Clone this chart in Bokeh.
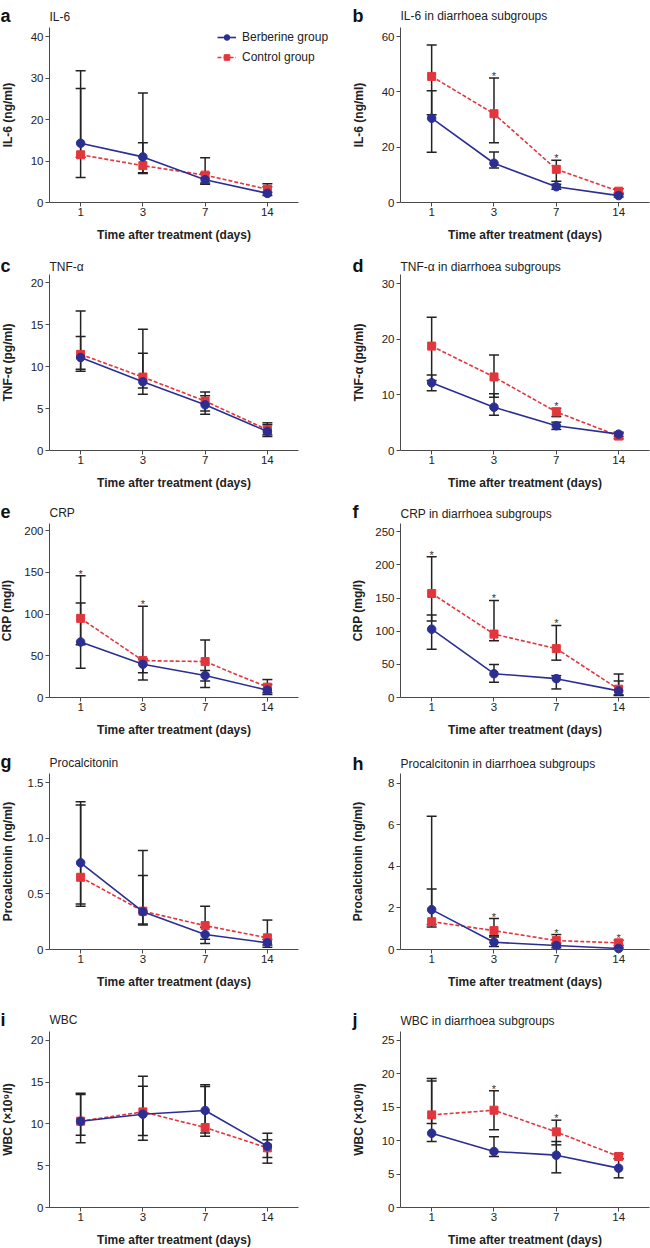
from bokeh.plotting import figure
from bokeh.models import (ColumnDataSource, Whisker, TeeHead, FixedTicker, Label,
                          Legend, LegendItem, Range1d)
from bokeh.layouts import column, row
from bokeh.embed import file_html
from bokeh.resources import INLINE
from bokeh.core.properties import value

# ---------------- data ----------------
days = ["1", "3", "7", "14"]
x_label = "Time after treatment (days)"
series_names = ["Berberine group", "Control group"]

# a  IL-6
il6_berb = [14.3, 11.0, 5.5, 2.2]
il6_berb_lo = [6.0, 7.0, 4.4, 1.7]
il6_berb_hi = [31.8, 26.4, 7.1, 3.8]
il6_ctrl = [11.5, 8.9, 6.6, 3.2]
il6_ctrl_lo = [10.9, 7.2, 4.7, 2.5]
il6_ctrl_hi = [27.5, 14.4, 10.8, 4.5]
il6_stars = []

# b  IL-6 diarrhoea
il6d_berb = [30.5, 14.2, 5.7, 2.5]
il6d_berb_lo = [18.2, 12.5, 4.8, 2.0]
il6d_berb_hi = [40.4, 18.3, 6.6, 3.4]
il6d_ctrl = [45.6, 32.1, 12.0, 4.1]
il6d_ctrl_lo = [31.7, 21.6, 7.7, 3.0]
il6d_ctrl_hi = [57.0, 45.0, 15.3, 5.0]
il6d_stars = [1, 2]

# c  TNF-alpha
tnf_berb = [11.1, 8.2, 5.45, 2.27]
tnf_berb_lo = [9.45, 6.7, 4.34, 1.67]
tnf_berb_hi = [13.6, 11.6, 6.53, 3.07]
tnf_ctrl = [11.47, 8.76, 5.9, 2.47]
tnf_ctrl_lo = [9.7, 7.45, 4.7, 1.87]
tnf_ctrl_hi = [16.65, 14.46, 6.97, 3.3]
tnf_stars = []

# d  TNF-alpha diarrhoea
tnfd_berb = [12.2, 7.8, 4.45, 2.95]
tnfd_berb_lo = [10.75, 6.35, 3.8, 2.5]
tnfd_berb_hi = [13.6, 10.2, 5.1, 3.3]
tnfd_ctrl = [18.8, 13.25, 6.95, 2.6]
tnfd_ctrl_lo = [12.6, 9.6, 6.1, 2.1]
tnfd_ctrl_hi = [24.0, 17.2, 7.6, 3.1]
tnfd_stars = [2]

# e  CRP
crp_berb = [66.5, 39.8, 26.3, 8.8]
crp_berb_lo = [35.1, 21.1, 12.0, 3.6]
crp_berb_hi = [113.1, 46.0, 32.3, 15.5]
crp_ctrl = [94.8, 44.2, 43.0, 12.4]
crp_ctrl_lo = [63.3, 29.5, 19.9, 5.6]
crp_ctrl_hi = [145.8, 109.2, 68.9, 21.5]
crp_stars = [0, 1]

# f  CRP diarrhoea
crpd_berb = [103.1, 35.9, 28.4, 10.0]
crpd_berb_lo = [72.7, 22.9, 12.9, 4.0]
crpd_berb_hi = [124.5, 49.8, 33.0, 24.9]
crpd_ctrl = [156.9, 95.6, 73.7, 12.5]
crpd_ctrl_lo = [115.5, 85.7, 56.3, 3.0]
crpd_ctrl_hi = [212.2, 146.4, 108.6, 35.4]
crpd_stars = [0, 1, 2]

# g  Procalcitonin
pct_berb = [0.78, 0.34, 0.135, 0.06]
pct_berb_lo = [0.41, 0.22, 0.054, 0.02]
pct_berb_hi = [1.33, 0.89, 0.2, 0.09]
pct_ctrl = [0.65, 0.345, 0.215, 0.105]
pct_ctrl_lo = [0.39, 0.23, 0.093, 0.04]
pct_ctrl_hi = [1.30, 0.665, 0.39, 0.265]
pct_stars = []

# h  Procalcitonin diarrhoea
pctd_berb = [1.92, 0.35, 0.19, 0.05]
pctd_berb_lo = [1.2, 0.15, 0.08, 0.01]
pctd_berb_hi = [6.42, 0.6, 0.3, 0.1]
pctd_ctrl = [1.34, 0.91, 0.43, 0.32]
pctd_ctrl_lo = [1.09, 0.66, 0.2, 0.2]
pctd_ctrl_hi = [2.91, 1.49, 0.72, 0.45]
pctd_stars = [1, 2, 3]

# i  WBC
wbc_berb = [10.32, 11.15, 11.6, 7.33]
wbc_berb_lo = [7.73, 8.05, 8.9, 5.98]
wbc_berb_hi = [13.67, 14.5, 14.66, 8.88]
wbc_ctrl = [10.32, 11.43, 9.56, 7.13]
wbc_ctrl_lo = [8.65, 8.6, 8.53, 5.3]
wbc_ctrl_hi = [13.5, 15.7, 14.46, 8.09]
wbc_stars = []

# j  WBC diarrhoea
wbcd_berb = [11.1, 8.37, 7.82, 5.88]
wbcd_berb_lo = [9.86, 7.62, 5.18, 4.43]
wbcd_berb_hi = [18.92, 10.56, 9.86, 7.3]
wbcd_ctrl = [13.84, 14.54, 11.3, 7.62]
wbcd_ctrl_lo = [12.55, 11.6, 9.36, 7.3]
wbcd_ctrl_hi = [19.27, 17.43, 13.05, 8.0]
wbcd_stars = [1, 2]

letters = ["a", "b", "c", "d", "e", "f", "g", "h", "i", "j"]
titles = ["IL-6", "IL-6 in diarrhoea subgroups", "TNF-α", "TNF-α in diarrhoea subgroups",
          "CRP", "CRP in diarrhoea subgroups", "Procalcitonin",
          "Procalcitonin in diarrhoea subgroups", "WBC", "WBC in diarrhoea subgroups"]
ylabels = ["IL-6 (ng/ml)", "IL-6 (ng/ml)", "TNF-α (pg/ml)", "TNF-α (pg/ml)",
           "CRP (mg/l)", "CRP (mg/l)", "Procalcitonin (ng/ml)", "Procalcitonin (ng/ml)",
           "WBC (×10⁹/l)", "WBC (×10⁹/l)"]
yticks = [[0, 10, 20, 30, 40], [0, 20, 40, 60], [0, 5, 10, 15, 20], [0, 10, 20, 30],
          [0, 50, 100, 150, 200], [0, 50, 100, 150, 200, 250], [0, 0.5, 1.0, 1.5],
          [0, 2, 4, 6, 8], [0, 5, 10, 15, 20], [0, 5, 10, 15, 20, 25]]
ytick_labels_g = ["0", "0.5", "1.0", "1.5"]

berb = [il6_berb, il6d_berb, tnf_berb, tnfd_berb, crp_berb, crpd_berb, pct_berb, pctd_berb, wbc_berb, wbcd_berb]
berb_lo = [il6_berb_lo, il6d_berb_lo, tnf_berb_lo, tnfd_berb_lo, crp_berb_lo, crpd_berb_lo,
           pct_berb_lo, pctd_berb_lo, wbc_berb_lo, wbcd_berb_lo]
berb_hi = [il6_berb_hi, il6d_berb_hi, tnf_berb_hi, tnfd_berb_hi, crp_berb_hi, crpd_berb_hi,
           pct_berb_hi, pctd_berb_hi, wbc_berb_hi, wbcd_berb_hi]
ctrl = [il6_ctrl, il6d_ctrl, tnf_ctrl, tnfd_ctrl, crp_ctrl, crpd_ctrl, pct_ctrl, pctd_ctrl, wbc_ctrl, wbcd_ctrl]
ctrl_lo = [il6_ctrl_lo, il6d_ctrl_lo, tnf_ctrl_lo, tnfd_ctrl_lo, crp_ctrl_lo, crpd_ctrl_lo,
           pct_ctrl_lo, pctd_ctrl_lo, wbc_ctrl_lo, wbcd_ctrl_lo]
ctrl_hi = [il6_ctrl_hi, il6d_ctrl_hi, tnf_ctrl_hi, tnfd_ctrl_hi, crp_ctrl_hi, crpd_ctrl_hi,
           pct_ctrl_hi, pctd_ctrl_hi, wbc_ctrl_hi, wbcd_ctrl_hi]
stars = [il6_stars, il6d_stars, tnf_stars, tnfd_stars, crp_stars, crpd_stars,
         pct_stars, pctd_stars, wbc_stars, wbcd_stars]

# ---------------- style / layout ----------------
FONT = "Liberation Sans"
BLUE = "#2b2e93"
RED = "#e3353c"
INK = "#222222"
AXIS = "#4a4a4a"
TICK_FS = 11.5

y_ends = [42.2, 63.3, 21.0, 31.7, 208.4, 262.4, 1.584, 8.48, 21.04, 26.3]
x_bounds = (-0.5, 3.5)
col_w = [350, 300]          # canvas widths
col_L = [49, 50]            # canvas x of x=-0.5
col_R = [298, 299.3]        # canvas x of x=3.5
col_gap = [39, 39]          # target for y-axis label distance
letter_dx = [-49, -48]
row_T = [27, 28, 29, 32, 38]
row_H = [175, 176, 174, 176, 176]
row_B = [44, 44, 44, 44, 41]
title_off = [[11, 12], [8, 8], [11, 10], [11, 10], [12, 11]]
letter_off = [[12, 12], [9, 9], [12, 12], [12, 10], [12, 12]]


def text_w(s, fs):
    return sum((0.278 if ch == "." else 0.556) for ch in s) * fs


def make_panel(k):
    r, c = divmod(k, 2)
    xs = list(range(len(days)))
    ymax = y_ends[k]
    W = col_w[c]
    Hc = row_T[r] + row_H[r] + row_B[r]
    ppx = (col_R[c] - col_L[c]) / (x_bounds[1] - x_bounds[0])
    x0 = x_bounds[0] - col_L[c] / ppx
    x1 = x_bounds[0] + (W - col_L[c]) / ppx
    ppy = row_H[r] / ymax
    y0 = -row_B[r] / ppy
    y1 = ymax + row_T[r] / ppy

    p = figure(width=W, height=Hc, output_backend="svg", toolbar_location=None,
               x_range=Range1d(x0, x1), y_range=Range1d(y0, y1), min_border=0)
    p.min_border_left = 0
    p.min_border_right = 0
    p.min_border_top = 0
    p.min_border_bottom = 0
    p.outline_line_color = None
    p.grid.visible = False
    p.background_fill_color = "white"
    p.border_fill_color = "white"

    # axes placed at fixed data locations so the frame covers the whole canvas
    p.xaxis.fixed_location = 0
    p.xaxis.bounds = x_bounds
    p.xaxis.ticker = FixedTicker(ticks=xs)
    p.xaxis.major_label_overrides = {i: d for i, d in enumerate(days)}
    p.xaxis.axis_label = x_label
    p.xaxis.major_label_standoff = 1
    p.xaxis.axis_label_standoff = 9

    ticks = yticks[k]
    p.yaxis.fixed_location = x_bounds[0]
    p.yaxis.bounds = (0, ymax)
    p.yaxis.ticker = FixedTicker(ticks=ticks)
    if k == 6:
        p.yaxis.major_label_overrides = {t: s for t, s in zip(ticks, ytick_labels_g)}
        labs = ytick_labels_g
    else:
        labs = [str(t) for t in ticks]
    w = max(text_w(s, TICK_FS) for s in labs)
    p.yaxis.axis_label = ylabels[k]
    p.yaxis.major_label_standoff = 2
    p.yaxis.axis_label_standoff = max(0, int(round(col_gap[c] - 4 - 2 - w - 7)))

    for ax in (p.xaxis[0], p.yaxis[0]):
        ax.axis_line_color = AXIS
        ax.axis_line_width = 1
        ax.major_tick_line_color = AXIS
        ax.major_tick_out = 4
        ax.major_tick_in = 0
        ax.minor_tick_line_color = None
        ax.major_label_text_font = FONT
        ax.major_label_text_font_size = f"{TICK_FS}px"
        ax.major_label_text_color = INK
        ax.axis_label_text_font = FONT
        ax.axis_label_text_font_size = "12px"
        ax.axis_label_text_font_style = "bold"
        ax.axis_label_text_color = INK

    # error bars
    for lo, hi in ((ctrl_lo[k], ctrl_hi[k]), (berb_lo[k], berb_hi[k])):
        src = ColumnDataSource(dict(x=xs, lo=lo, hi=hi))
        wk = Whisker(base="x", lower="lo", upper="hi", source=src,
                     line_color=INK, line_width=1.5, level="underlay",
                     upper_head=TeeHead(size=10, line_color=INK, line_width=1.5),
                     lower_head=TeeHead(size=10, line_color=INK, line_width=1.5))
        p.add_layout(wk)

    # series
    rl = p.line(xs, ctrl[k], line_color=RED, line_width=1.6, line_dash="4 2")
    rs = p.scatter(xs, ctrl[k], marker="square", size=8, fill_color=RED, line_color=RED)
    bl = p.line(xs, berb[k], line_color=BLUE, line_width=1.6)
    bs = p.scatter(xs, berb[k], marker="circle", size=8.5, fill_color=BLUE, line_color=BLUE)

    # significance stars
    if stars[k]:
        sx = stars[k]
        sy = [max(berb_hi[k][i], ctrl_hi[k][i]) for i in sx]
        p.text(x=sx, y=sy, text=["*"] * len(sx), text_align="center",
               text_baseline="alphabetic", y_offset=-2,
               text_font=value(FONT), text_font_size="11px", text_color="#333333")

    # title and panel letter
    p.add_layout(Label(x=x_bounds[0], y=ymax, x_offset=0, y_offset=title_off[r][c],
                       text=titles[k], text_font=FONT, text_font_size="12px",
                       text_baseline="alphabetic", text_color=INK))
    p.add_layout(Label(x=x_bounds[0], y=ymax, x_offset=letter_dx[c], y_offset=letter_off[r][c],
                       text=letters[k], text_font=FONT, text_font_size="18px",
                       text_font_style="bold", text_baseline="alphabetic", text_color="#111111"))

    if k == 0:
        leg_left = 217
        leg_bottom = Hc - (30 + 34)
        leg = Legend(items=[LegendItem(label=series_names[0], renderers=[bl, bs]),
                            LegendItem(label=series_names[1], renderers=[rl, rs])],
                     location=(leg_left, leg_bottom), orientation="vertical",
                     background_fill_alpha=0, border_line_color=None,
                     padding=0, margin=0, spacing=6,
                     glyph_width=19, glyph_height=14, label_height=14,
                     label_standoff=6, label_text_font=FONT,
                     label_text_font_size="12px", label_text_color=INK)
        p.add_layout(leg)
    return p


panels = [make_panel(k) for k in range(10)]
layout = column(*[row(panels[2 * r], panels[2 * r + 1]) for r in range(5)])

open("out.html", "w").write(file_html(layout, INLINE, title="Berberine figure"))
